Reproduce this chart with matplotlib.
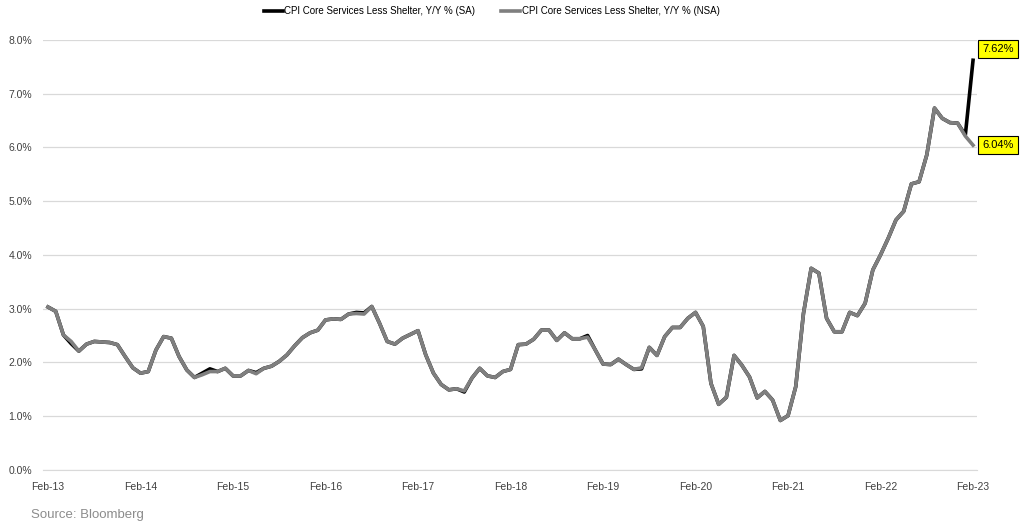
import numpy as np
import pandas as pd
import matplotlib
matplotlib.use("Agg")
import matplotlib.pyplot as plt

# monthly, Feb-13 .. Feb-23
months = pd.date_range("2013-02-01", "2023-02-01", freq="MS")

nsa = [3.03, 2.95, 2.51, 2.39, 2.21, 2.34, 2.39, 2.38, 2.37, 2.33,
       2.11, 1.90, 1.80, 1.83, 2.23, 2.48, 2.45, 2.11, 1.86, 1.72,
       1.77, 1.83, 1.83, 1.89, 1.75, 1.75, 1.85, 1.79, 1.89, 1.93,
       2.02, 2.14, 2.31, 2.46, 2.55, 2.60, 2.79, 2.81, 2.80, 2.90,
       2.91, 2.90, 3.04, 2.73, 2.39, 2.34, 2.45, 2.52, 2.59, 2.14,
       1.80, 1.59, 1.49, 1.51, 1.47, 1.71, 1.89, 1.75, 1.72, 1.83,
       1.87, 2.33, 2.34, 2.43, 2.60, 2.60, 2.41, 2.55, 2.44, 2.44,
       2.47, 2.23, 1.97, 1.96, 2.06, 1.96, 1.87, 1.90, 2.28, 2.13,
       2.48, 2.65, 2.65, 2.82, 2.93, 2.67, 1.61, 1.22, 1.35, 2.13,
       1.95, 1.73, 1.34, 1.46, 1.30, 0.92, 1.01, 1.55, 2.91, 3.75,
       3.66, 2.82, 2.57, 2.57, 2.93, 2.87, 3.10, 3.72, 4.00, 4.31,
       4.65, 4.81, 5.32, 5.36, 5.86, 6.73, 6.54, 6.46, 6.45, 6.21,
       6.04]

sa = [3.03, 2.95, 2.51, 2.35, 2.21, 2.34, 2.39, 2.38, 2.37, 2.33,
      2.11, 1.90, 1.80, 1.83, 2.23, 2.48, 2.45, 2.11, 1.86, 1.72,
      1.80, 1.88, 1.83, 1.89, 1.75, 1.75, 1.85, 1.81, 1.89, 1.93,
      2.02, 2.14, 2.31, 2.46, 2.55, 2.60, 2.79, 2.81, 2.80, 2.90,
      2.93, 2.92, 3.04, 2.73, 2.39, 2.34, 2.45, 2.52, 2.59, 2.14,
      1.80, 1.59, 1.49, 1.51, 1.45, 1.71, 1.89, 1.75, 1.72, 1.83,
      1.87, 2.33, 2.34, 2.43, 2.60, 2.60, 2.41, 2.55, 2.44, 2.44,
      2.50, 2.23, 1.97, 1.96, 2.06, 1.96, 1.87, 1.88, 2.28, 2.13,
      2.48, 2.65, 2.65, 2.82, 2.93, 2.67, 1.61, 1.22, 1.35, 2.13,
      1.95, 1.73, 1.34, 1.46, 1.30, 0.92, 1.01, 1.55, 2.91, 3.75,
      3.66, 2.82, 2.57, 2.57, 2.93, 2.87, 3.10, 3.72, 4.00, 4.31,
      4.65, 4.81, 5.32, 5.36, 5.86, 6.73, 6.54, 6.46, 6.45, 6.23,
      7.62]

sa_label = "CPI Core Services Less Shelter, Y/Y % (SA)"
nsa_label = "CPI Core Services Less Shelter, Y/Y % (NSA)"

plt.rcParams["font.family"] = ["Liberation Sans", "DejaVu Sans"]

x = np.arange(len(months))

fig = plt.figure(figsize=(10.24, 5.31), dpi=100)
ax = fig.add_axes([0.042, 0.115, 0.912, 0.81])

ax.plot(x, sa, color="black", lw=2.6, label=sa_label, solid_joinstyle="round")
ax.plot(x, nsa, color="#7f7f7f", lw=2.6, label=nsa_label, solid_joinstyle="round")

ax.set_xlim(-0.65, 120.5)
ax.set_ylim(0, 8)
ax.set_yticks(np.arange(0, 9, 1))
ax.set_yticklabels(["%.1f%%" % v for v in np.arange(0, 9, 1)])
ax.set_xticks(x[::12])
ax.set_xticklabels([d.strftime("%b-%y") for d in months[::12]])
ax.tick_params(length=0, labelsize=7.5, colors="#404040")
ax.tick_params(axis="x", pad=9)
ax.tick_params(axis="y", pad=8)
ax.grid(axis="y", color="#d9d9d9", lw=0.9)
ax.set_axisbelow(True)
for s in ["top", "right", "left"]:
    ax.spines[s].set_visible(False)
ax.spines["bottom"].set_color("#d9d9d9")

# last-value labels
box = dict(boxstyle="square,pad=0.35", fc="#ffff00", ec="black", lw=0.8)
ax.annotate("%.2f%%" % sa[-1], xy=(x[-1], sa[-1]), xytext=(121.2, 7.83),
            fontsize=8, va="center", ha="left", bbox=box, annotation_clip=False)
ax.annotate("%.2f%%" % nsa[-1], xy=(x[-1], nsa[-1]), xytext=(121.2, 6.05),
            fontsize=8, va="center", ha="left", bbox=box, annotation_clip=False)

fig.legend(loc="upper center", bbox_to_anchor=(0.48, 1.005), ncol=2, frameon=False,
           fontsize=7, handlelength=2.0, handletextpad=0.15, columnspacing=2.6)

fig.text(0.03, 0.025, "Source: Bloomberg", fontsize=9.5, color="#8c8c8c")

fig.savefig("out.png", dpi=100)
